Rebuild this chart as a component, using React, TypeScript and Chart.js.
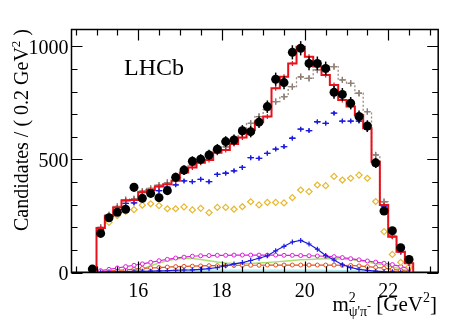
import React, { useEffect, useRef } from 'react';
import { Chart, registerables } from 'chart.js';
Chart.register(...registerables);

const FONT = "'Liberation Serif', 'DejaVu Serif', serif";

// bin centres (0.2 GeV^2 bins)
const binCenters = [15.1, 15.3, 15.5, 15.7, 15.9, 16.1, 16.3, 16.5, 16.7, 16.9, 17.1, 17.3, 17.5, 17.7, 17.9, 18.1, 18.3, 18.5, 18.7, 18.9, 19.1, 19.3, 19.5, 19.7, 19.9, 20.1, 20.3, 20.5, 20.7, 20.9, 21.1, 21.3, 21.5, 21.7, 21.9, 22.1, 22.3, 22.5];
const firstDataCenter = [14.9];
const dataValues = [15, 173, 242, 266, 280, 377, 328, 350, 331, 362, 421, 453, 492, 501, 520, 545, 579, 586, 627, 623, 665, 734, 855, 840, 974, 992, 925, 925, 903, 797, 788, 749, 690, 648, 485, 272, 185, 110, 58];
const fitTotal = [197, 250, 287, 318, 321, 355, 365, 380, 390, 406, 442, 465, 486, 498, 530, 542, 569, 597, 630, 667, 690, 815, 866, 925, 999, 955, 911, 874, 830, 763, 734, 697, 638, 490, 299, 158, 92, 41];
const altFit = [200, 255, 292, 322, 326, 360, 372, 386, 398, 414, 450, 474, 495, 510, 540, 556, 585, 615, 660, 690, 720, 756, 778, 822, 866, 859, 896, 889, 911, 852, 837, 793, 712, 520, 313, 165, 95, 43];
const blueMain = [190, 243, 278, 306, 308, 336, 352, 362, 378, 388, 405, 402, 412, 402, 434, 439, 450, 465, 508, 505, 527, 546, 557, 594, 634, 628, 667, 660, 705, 670, 670, 670, 633, 473, 294, 160, 90, 40];
const yellowComp = [175, 222, 252, 270, 278, 298, 304, 296, 282, 282, 290, 277, 284, 265, 288, 288, 280, 291, 313, 299, 310, 310, 308, 331, 365, 358, 387, 384, 425, 409, 417, 431, 417, 314, 181, 80, 45, 25];
const blueLow = [2, 3, 4, 4, 5, 5, 6, 7, 8, 10, 11, 12, 14, 17, 22, 30, 38, 44, 53, 63, 74, 96, 116, 135, 142, 126, 103, 75, 55, 34, 22, 14, 9, 6, 4, 3, 2, 1];
const magentaComp = [8, 14, 20, 26, 32, 38, 45, 52, 58, 64, 68, 72, 74, 75, 76, 76, 77, 77, 77, 77, 77, 77, 76, 76, 75, 74, 73, 72, 70, 66, 61, 56, 51, 46, 41, 35, 27, 17];
const greenComp = [0, 0, 0, 1, 5, 15, 30, 42, 52, 60, 63, 62, 58, 52, 46, 42, 40, 40, 40, 42, 44, 47, 50, 53, 56, 58, 60, 61, 61, 60, 57, 52, 46, 40, 33, 25, 16, 8];
const orangeComp = [3, 6, 9, 12, 15, 18, 20, 22, 24, 26, 27, 28, 29, 30, 30, 31, 31, 32, 32, 32, 33, 33, 33, 33, 33, 33, 33, 33, 33, 32, 31, 29, 26, 23, 19, 14, 9, 4];
const cyanComp = [0, 0, 1, 1, 2, 3, 4, 5, 6, 7, 8, 9, 10, 10, 11, 11, 11, 11, 11, 11, 11, 11, 11, 11, 11, 11, 11, 10, 10, 9, 8, 7, 6, 5, 4, 3, 2, 1];

const X_MIN = 14.4;
const X_MAX = 23.2;
const Y_MAX = 1075;
const HALF_BIN = 0.1;

const pts = (xs: number[], ys: number[]) => ys.map((v, i) => ({ x: xs[i], y: v }));
const stepPts = (ys: number[], withBase: boolean) => {
  const out: { x: number; y: number }[] = [];
  if (withBase) out.push({ x: X_MIN, y: 0 });
  ys.forEach((v, i) => out.push({ x: binCenters[i] - HALF_BIN, y: v }));
  out.push({ x: binCenters[binCenters.length - 1] + HALF_BIN, y: 0 });
  if (withBase) out.push({ x: X_MAX, y: 0 });
  return out;
};

const errPlugin = {
  id: 'errbars',
  beforeDatasetDraw(chart: any, args: any) {
    const ds = chart.data.datasets[args.index];
    const eb = ds.errBars;
    if (!eb) return;
    const meta = chart.getDatasetMeta(args.index);
    const xs = chart.scales.x;
    const ys = chart.scales.y;
    const ctx = chart.ctx;
    ctx.save();
    ctx.strokeStyle = eb.color;
    ctx.lineWidth = eb.width;
    ds.data.forEach((p: any, i: number) => {
      const el = meta.data[i];
      if (!el) return;
      ctx.beginPath();
      if (eb.xHalf) {
        ctx.moveTo(xs.getPixelForValue(p.x - eb.xHalf), el.y);
        ctx.lineTo(xs.getPixelForValue(p.x + eb.xHalf), el.y);
      }
      const ye = eb.sqrt ? Math.sqrt(Math.max(p.y, 0)) : eb.yErr || 0;
      if (ye) {
        ctx.moveTo(el.x, ys.getPixelForValue(Math.max(p.y - ye, 0)));
        ctx.lineTo(el.x, ys.getPixelForValue(p.y + ye));
      }
      ctx.stroke();
    });
    ctx.restore();
  },
};

type Part = { t: string; size: number; dy?: number; stack?: boolean };
const drawParts = (ctx: CanvasRenderingContext2D, parts: Part[], x: number, y: number) => {
  let cx = x;
  let lastW = 0;
  parts.forEach((p) => {
    ctx.font = `${p.size}px ${FONT}`;
    const w = ctx.measureText(p.t).width;
    const px = p.stack ? cx - lastW : cx;
    ctx.fillText(p.t, px, y + (p.dy || 0));
    cx = p.stack ? Math.max(cx, px + w) : px + w;
    lastW = w;
  });
  return cx - x;
};
const measureParts = (ctx: CanvasRenderingContext2D, parts: Part[]) => {
  let cx = 0;
  let lastW = 0;
  parts.forEach((p) => {
    ctx.font = `${p.size}px ${FONT}`;
    const w = ctx.measureText(p.t).width;
    const px = p.stack ? cx - lastW : cx;
    cx = p.stack ? Math.max(cx, px + w) : px + w;
    lastW = w;
  });
  return cx;
};

const framePlugin = {
  id: 'frame',
  afterDraw(chart: any) {
    const { ctx, chartArea } = chart;
    const { left, right, top, bottom } = chartArea;
    const xs = chart.scales.x;
    const ys = chart.scales.y;
    ctx.save();
    ctx.strokeStyle = '#000';
    ctx.lineWidth = 1.5;
    ctx.strokeRect(left, top, right - left, bottom - top);
    ctx.lineWidth = 1.2;
    ctx.beginPath();
    xs.ticks.forEach((t: any) => {
      const px = Math.round(xs.getPixelForValue(t.value)) + 0.5;
      const major = Math.abs(t.value / 2 - Math.round(t.value / 2)) < 1e-6;
      const len = major ? 11 : 6;
      ctx.moveTo(px, bottom);
      ctx.lineTo(px, bottom - len);
      ctx.moveTo(px, top);
      ctx.lineTo(px, top + len);
    });
    ys.ticks.forEach((t: any) => {
      const py = Math.round(ys.getPixelForValue(t.value)) + 0.5;
      const major = t.value % 500 === 0;
      const len = major ? 11 : 6;
      ctx.moveTo(left, py);
      ctx.lineTo(left + len, py);
      ctx.moveTo(right, py);
      ctx.lineTo(right - len, py);
    });
    ctx.stroke();

    ctx.fillStyle = '#000';
    ctx.textBaseline = 'alphabetic';
    ctx.textAlign = 'left';
    // LHCb label
    ctx.font = `24px ${FONT}`;
    ctx.fillText('LHCb', 124, 75);

    // x title
    const xParts: Part[] = [
      { t: 'm', size: 21 },
      { t: '2', size: 14, dy: -9 },
      { t: "ψ'π", size: 14, dy: 5, stack: true },
      { t: '-', size: 12, dy: -1 },
      { t: ' [GeV', size: 21 },
      { t: '2', size: 14, dy: -9 },
      { t: ']', size: 21 },
    ];
    const wx = measureParts(ctx, xParts);
    drawParts(ctx, xParts, 437 - wx, 311);

    // y title
    const yParts: Part[] = [
      { t: 'Candidates / ( 0.2 GeV', size: 20 },
      { t: '2', size: 13, dy: -8 },
      { t: ' )', size: 20 },
    ];
    const wy = measureParts(ctx, yParts);
    ctx.translate(28, 29);
    ctx.rotate(-Math.PI / 2);
    drawParts(ctx, yParts, -wy, 0);
    ctx.restore();
  },
};

export default function App() {
  const ref = useRef<HTMLCanvasElement>(null);
  useEffect(() => {
    const datasets: any[] = [
      {
        label: 'data',
        data: pts(firstDataCenter.concat(binCenters), dataValues),
        showLine: false,
        pointStyle: 'circle',
        pointRadius: 4.5,
        pointBackgroundColor: '#000',
        pointBorderColor: '#000',
        pointBorderWidth: 0,
        errBars: { sqrt: true, color: '#000', width: 1.5 },
      },
      {
        label: 'fit step',
        data: stepPts(fitTotal, true),
        stepped: 'before',
        borderColor: '#e8101a',
        borderWidth: 2,
        pointRadius: 0,
      },
      {
        label: 'fit markers',
        data: pts(binCenters, fitTotal),
        showLine: false,
        pointStyle: 'cross',
        pointRadius: 2.5,
        pointBorderColor: '#e8101a',
        pointBorderWidth: 1.2,
      },
      {
        label: 'alt step',
        data: stepPts(altFit, false),
        stepped: 'before',
        borderColor: '#9a8a80',
        borderWidth: 1.3,
        borderDash: [2, 2],
        pointRadius: 0,
      },
      {
        label: 'alt markers',
        data: pts(binCenters, altFit),
        showLine: false,
        pointStyle: 'cross',
        pointRadius: 3,
        pointBorderColor: '#8c7c72',
        pointBorderWidth: 1.3,
        errBars: { xHalf: 0.07, yErr: 14, color: '#8c7c72', width: 1.2 },
      },
      {
        label: 'blue',
        data: pts(binCenters, blueMain),
        showLine: false,
        pointStyle: 'cross',
        pointRadius: 2.5,
        pointBorderColor: '#1c1ce0',
        pointBorderWidth: 1.3,
        errBars: { xHalf: 0.08, yErr: 8, color: '#1c1ce0', width: 1.3 },
      },
      {
        label: 'yellow',
        data: pts(binCenters, yellowComp),
        showLine: false,
        pointStyle: 'rectRot',
        pointRadius: 3,
        pointBackgroundColor: '#fff',
        pointBorderColor: '#e8b830',
        pointBorderWidth: 1.2,
        errBars: { xHalf: 0.08, color: '#e8b830', width: 1.2 },
      },
      {
        label: 'blue low',
        data: pts(binCenters, blueLow),
        borderColor: '#1c1ce0',
        borderWidth: 1.2,
        pointStyle: 'cross',
        pointRadius: 2.5,
        pointBorderColor: '#1c1ce0',
        pointBorderWidth: 1.2,
      },
      {
        label: 'magenta',
        data: pts(binCenters, magentaComp),
        borderColor: '#d820d8',
        borderWidth: 1.2,
        pointStyle: 'circle',
        pointRadius: 2,
        pointBackgroundColor: '#fff',
        pointBorderColor: '#d820d8',
        pointBorderWidth: 1,
      },
      {
        label: 'orange',
        data: pts(binCenters, orangeComp),
        borderColor: '#e0501c',
        borderWidth: 1.2,
        pointStyle: 'circle',
        pointRadius: 2,
        pointBackgroundColor: '#fff',
        pointBorderColor: '#e0501c',
        pointBorderWidth: 1,
      },
      {
        label: 'green',
        data: pts(binCenters, greenComp),
        borderColor: '#a8e070',
        borderWidth: 1.5,
        pointRadius: 0,
      },
      {
        label: 'cyan',
        data: pts(binCenters, cyanComp),
        borderColor: '#a8e8f0',
        backgroundColor: '#c8f0f6',
        borderWidth: 1,
        fill: 'origin',
        pointRadius: 0,
      },
    ];
    const chart = new Chart(ref.current as HTMLCanvasElement, {
      type: 'line',
      data: { datasets },
      options: {
        animation: false,
        responsive: true,
        maintainAspectRatio: false,
        layout: { padding: { left: 0, top: 29.5, right: 15.8, bottom: 0 } },
        plugins: { legend: { display: false }, tooltip: { enabled: false } },
        elements: { line: { tension: 0 } },
        scales: {
          x: {
            type: 'linear',
            min: X_MIN,
            max: X_MAX,
            grid: { display: false, drawTicks: false },
            border: { display: false },
            ticks: {
              stepSize: 0.5,
              includeBounds: false,
              autoSkip: false,
              maxRotation: 0,
              padding: 7,
              color: '#000',
              font: { family: FONT, size: 20 },
              callback: (v: any) => (Math.abs(v / 2 - Math.round(v / 2)) < 1e-6 ? String(v) : ''),
            },
            afterFit: (s: any) => {
              s.height = 54.5;
            },
          },
          y: {
            type: 'linear',
            min: 0,
            max: Y_MAX,
            grid: { display: false, drawTicks: false },
            border: { display: false },
            ticks: {
              stepSize: 100,
              includeBounds: false,
              autoSkip: false,
              padding: 3,
              labelOffset: 2,
              color: '#000',
              font: { family: FONT, size: 20 },
              callback: (v: any) => (v % 500 === 0 ? String(v) : ''),
            },
            afterFit: (s: any) => {
              s.width = 71.5;
            },
          },
        },
      } as any,
      plugins: [errPlugin, framePlugin],
    });
    return () => chart.destroy();
  }, []);
  return (
    <div style={{ position: 'absolute', left: 0, top: 0, width: 454, height: 327, background: '#fff' }}>
      <canvas ref={ref} />
    </div>
  );
}
